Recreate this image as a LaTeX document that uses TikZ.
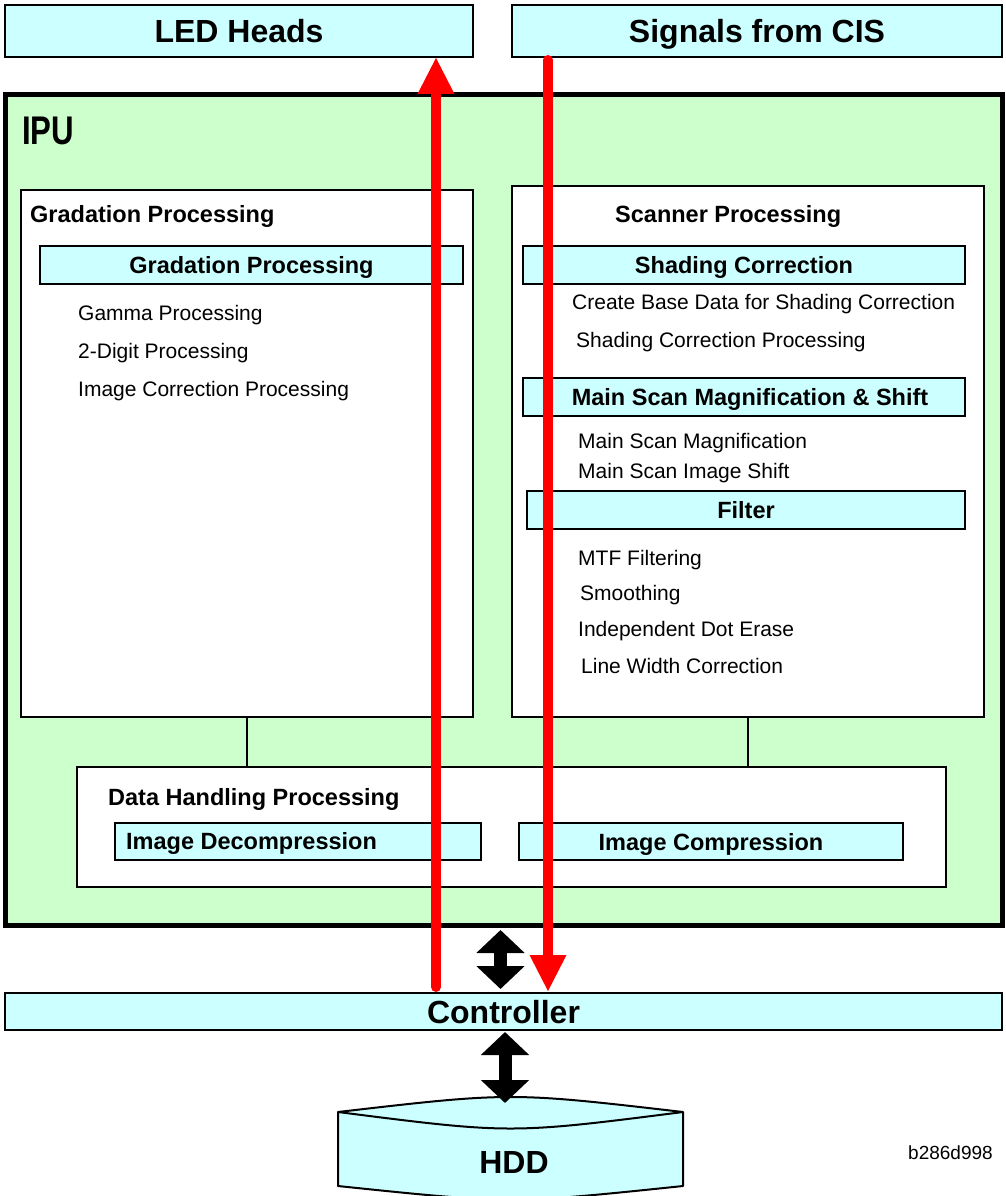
\documentclass[tikz,border=0pt]{standalone}
\usepackage{fontspec}
\setmainfont{Liberation Sans}
\usetikzlibrary{arrows.meta}
\definecolor{cyanfill}{HTML}{CCFFFF}
\definecolor{greenfill}{HTML}{CCFFCC}
\begin{document}
\begin{tikzpicture}[x=1pt,y=-1pt,
  big/.style={font=\fontsize{32}{36}\selectfont\bfseries},
  hdr/.style={font=\fontsize{23.5}{27}\selectfont\bfseries},
  reg/.style={font=\fontsize{21}{25}\selectfont},
  capbox/.style={text height=17pt, text depth=0pt},
  bigcap/.style={text height=23pt, text depth=0pt},
  topbox/.style={draw=black, line width=2pt, fill=cyanfill, inner sep=0pt, big, bigcap},
  bar/.style={draw=black, line width=1.5pt, fill=cyanfill, inner sep=0pt, hdr, capbox},
  panel/.style={draw=black, line width=2pt, fill=white, inner sep=0pt},
  txt/.style={anchor=base west, inner sep=0pt, reg},
  htxt/.style={anchor=base west, inner sep=0pt, hdr},
  redarrow/.style={draw=red, line width=10pt, line cap=round, -{Triangle[width=34pt,length=37pt]}},
  blkarrow/.style={draw=black, fill=black, line width=13pt, {Triangle[width=47pt,length=23pt]}-{Triangle[width=47pt,length=23pt]}},
  link/.style={draw=black, line width=1.5pt}
]
\useasboundingbox (0,0) rectangle (1005,1196);

% top boxes
\node[topbox, minimum width=468pt, minimum height=52pt] (led) at (239,31) {LED Heads};
\node[topbox, minimum width=490pt, minimum height=52pt] (cis) at (757,31) {Signals from CIS};

% IPU
\node[draw=black, line width=5pt, fill=greenfill, minimum width=997pt, minimum height=830pt, inner sep=0pt] (ipu) at (503.5,510) {};
\node[anchor=base west, inner sep=0pt, font=\fontsize{40}{44}\selectfont\bfseries] (ipulabel) at (22,145) {\scalebox{0.78}[1]{IPU}};

% panels
\node[panel, minimum width=452pt, minimum height=527pt] (grad) at (247,453.5) {};
\node[panel, minimum width=472pt, minimum height=531pt] (scan) at (748,451.5) {};
\node[panel, minimum width=869pt, minimum height=120pt] (dh) at (511.5,827) {};

% links
\draw[link] (grad.south) -- (grad.south |- dh.north);
\draw[link] (scan.south) -- (scan.south |- dh.north);

% gradation panel
\node[htxt] (gradhdr) at (30,222) {Gradation Processing};
\node[bar, minimum width=423pt, minimum height=38pt] (gradbar) at (251.5,265) {Gradation Processing};
\node[txt] (gamma) at (78,320.5) {Gamma Processing};
\node[txt] (digit) at (78,358.5) {2-Digit Processing};
\node[txt] (imgcorr) at (78,396.5) {Image Correction Processing};

% scanner panel
\node[htxt] (scanhdr) at (615,222) {Scanner Processing};
\node[bar, minimum width=442pt, minimum height=38pt] (shad) at (744,265) {Shading Correction};
\node[txt] (createbase) at (572,309.5) {Create Base Data for Shading Correction};
\node[txt] (shadproc) at (576,347.5) {Shading Correction Processing};
\node[bar, minimum width=442pt, minimum height=38pt] (mag) at (744,397) {\hspace*{12pt}Main Scan Magnification \& Shift};
\node[txt] (magtxt) at (578,448.5) {Main Scan Magnification};
\node[txt] (shifttxt) at (578,478.5) {Main Scan Image Shift};
\node[bar, minimum width=438pt, minimum height=38pt] (filt) at (746,510) {Filter};
\node[txt] (mtf) at (578,565.5) {MTF Filtering};
\node[txt] (smooth) at (580,600.5) {Smoothing};
\node[txt] (dot) at (578,636.5) {Independent Dot Erase};
\node[txt] (lwc) at (581,673.5) {Line Width Correction};

% data handling
\node[htxt] (dhhdr) at (108,805) {Data Handling Processing};
\node[bar, minimum width=366pt, minimum height=37pt] (dec) at (298,841.5) {};
\node[htxt] (dectxt) at (126,849.5) {Image Decompression};
\node[bar, minimum width=384pt, minimum height=37pt] (comp) at (711,841.5) {Image Compression};

% controller
\node[draw=black, line width=2pt, fill=cyanfill, inner sep=0pt, minimum width=997pt, minimum height=37pt, big, bigcap] (ctrl) at (503.5,1011.5) {Controller};

% HDD
\fill[cyanfill] (338,1112) .. controls (510.5,1092) .. (683,1112) -- (683,1186) .. controls (510.5,1204) .. (338,1186) -- cycle;
\draw[line width=2pt, line join=round] (338,1112) -- (338,1186) .. controls (510.5,1204) .. (683,1186) -- (683,1112);
\draw[line width=2pt, line join=round] (338,1112) .. controls (510.5,1092) .. (683,1112) .. controls (510.5,1134) .. (338,1112) -- cycle;
\node[big, bigcap, inner sep=0pt] (hdd) at (514,1162) {HDD};
\coordinate (hddtop) at (505,1103);

\node[anchor=base west, inner sep=0pt, font=\fontsize{19}{22}\selectfont] (code) at (908,1159) {b286d998};

% red arrows
\coordinate (upx) at (436,0);
\coordinate (dnx) at (548,0);
\draw[redarrow] ([yshift=5pt]ctrl.north -| upx) -- ([yshift=1pt]led.south -| upx);
\draw[redarrow] ([yshift=-2pt]cis.south -| dnx) -- (ctrl.north -| dnx);

% black double arrows
\coordinate (bxa) at (500.5,0);
\draw[blkarrow] ([yshift=-2.5pt]ipu.south -| bxa) -- ([yshift=3pt]ctrl.north -| bxa);
\draw[blkarrow] ([yshift=-1pt]ctrl.south -| hddtop) -- (hddtop);
\end{tikzpicture}
\end{document}
